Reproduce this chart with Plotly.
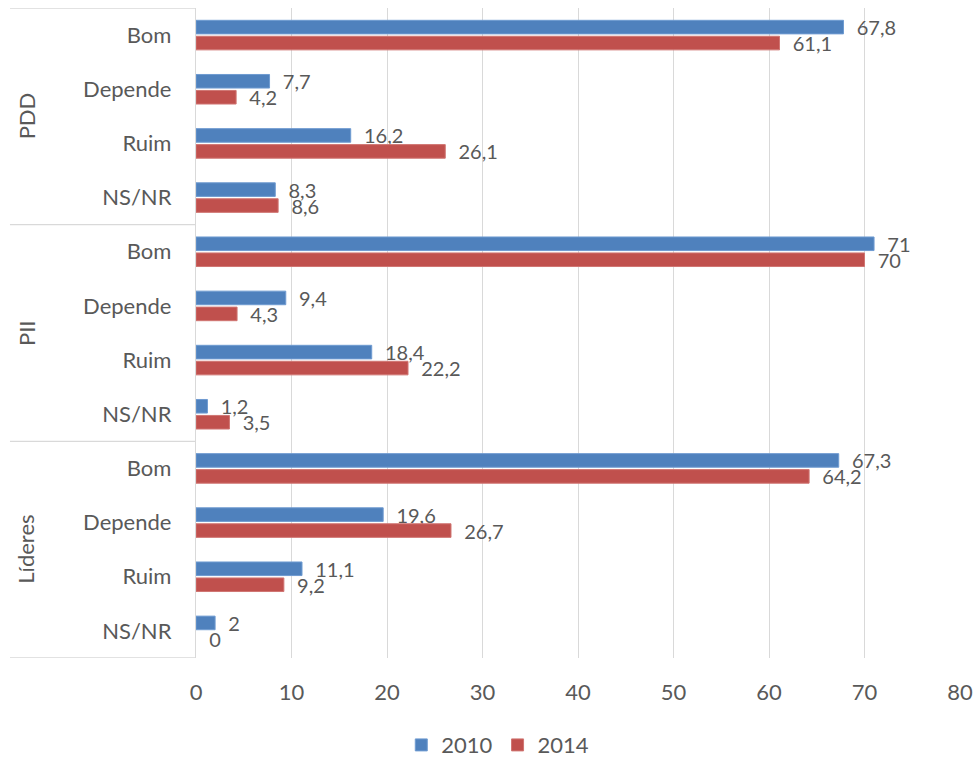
import plotly.graph_objects as go

groups = ["PDD", "PII", "Líderes"]
answers = ["Bom", "Depende", "Ruim", "NS/NR"]
v2010 = [67.8, 7.7, 16.2, 8.3, 71, 9.4, 18.4, 1.2, 67.3, 19.6, 11.1, 2]
v2014 = [61.1, 4.2, 26.1, 8.6, 70, 4.3, 22.2, 3.5, 64.2, 26.7, 9.2, 0]
series_names = ["2010", "2014"]
x_ticks = [0, 10, 20, 30, 40, 50, 60, 70, 80]

cat_ids = [f"{g}|{a}" for g in groups for a in answers]
cat_labels = [a for g in groups for a in answers]

def fmt(v):
    return "\u00a0\u00a0" + f"{v:g}".replace(".", ",")

GREY = "#595959"
GRID = "#d9d9d9"
FONT = "Lato"
FS = 20
FT = 22

fig = go.Figure()
for name, vals, col, edge in [
    (series_names[0], v2010, "#4f81bd", "#6f9bd1"),
    (series_names[1], v2014, "#c0504d", "#d07572"),
]:
    fig.add_trace(go.Bar(
        y=cat_ids, x=vals, name=name, orientation="h",
        marker=dict(color=col, line=dict(color=edge, width=[1 if v > 0 else 0 for v in vals])),
        text=[fmt(v) for v in vals], textposition="outside",
        constraintext="none",
        textfont=dict(size=FS, color=GREY, family=FONT),
        cliponaxis=False,
    ))

shapes = []
for yv in [-0.5, 3.5, 7.5, 11.5]:
    shapes.append(dict(type="line", xref="paper", yref="y", x0=-0.2435, x1=0,
                       y0=yv, y1=yv, line=dict(color=GRID, width=1.3)))

annotations = []
for i, g in enumerate(groups):
    annotations.append(dict(text=g, xref="paper", yref="y", x=-0.2225, y=i * 4 + 1.5,
                            textangle=-90, showarrow=False, xanchor="center", yanchor="middle",
                            font=dict(size=FT, color=GREY, family=FONT)))

fig.update_layout(
    width=976, height=760,
    margin=dict(l=196, r=16, t=8, b=102, autoexpand=False),
    plot_bgcolor="white", paper_bgcolor="white",
    barmode="group", bargap=0.41, bargroupgap=0.15,
    font=dict(family=FONT, size=FS, color=GREY),
    showlegend=True,
    legend=dict(orientation="h", x=0.395, xanchor="center", y=-0.134, yanchor="middle",
                font=dict(size=FT, color=GREY, family=FONT), traceorder="normal"),
    shapes=shapes, annotations=annotations,
)
fig.update_xaxes(range=[0, 80], tickvals=x_ticks, showgrid=True, gridcolor=GRID, gridwidth=1.3,
                 zeroline=False, showline=False, ticks="", ticklabelstandoff=19, automargin=False,
                 tickfont=dict(size=FT, color=GREY, family=FONT))
fig.update_yaxes(type="category", categoryorder="array", categoryarray=cat_ids,
                 range=[11.5, -0.5], tickvals=cat_ids, ticktext=cat_labels,
                 showgrid=False, zeroline=False, showline=True, linecolor=GRID, linewidth=1.3,
                 ticks="", ticklabelstandoff=19, automargin=False,
                 tickfont=dict(size=FT, color=GREY, family=FONT))

fig.write_html("out.html", config={"displayModeBar": False},
               post_script="document.body.style.margin='0px';")
